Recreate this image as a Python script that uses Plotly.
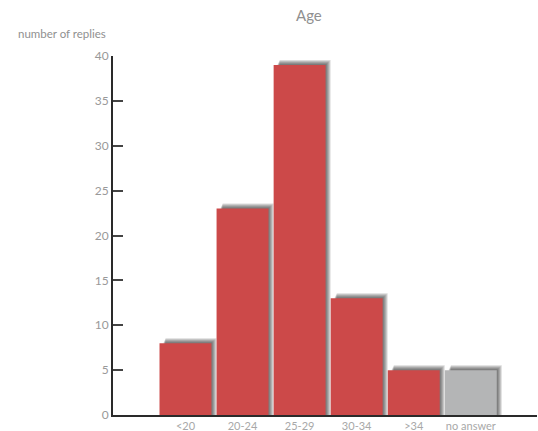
import plotly.graph_objects as go

# Survey answers by age group
categories = ["<20", "20-24", "25-29", "30-34", ">34", "no answer"]
replies = [8, 23, 39, 13, 5, 5]
bar_colors = ["#cc4949", "#cc4949", "#cc4949", "#cc4949", "#cc4949", "#b4b5b6"]
y_ticks = [0, 5, 10, 15, 20, 25, 30, 35, 40]

BAR_W = 0.91
X_RANGE = [-1.27, 6.16]
Y_RANGE = [0, 40]
M_L, M_T = 113, 56
PLOT_W_PX = 424
PLOT_H_PX = 359
px_x = (X_RANGE[1] - X_RANGE[0]) / PLOT_W_PX  # data units per pixel, x
px_y = (Y_RANGE[1] - Y_RANGE[0]) / PLOT_H_PX  # data units per pixel, y

fig = go.Figure()

# soft drop shadow behind each bar: translucent layers growing up and right
for k in range(5):
    left = 4 + 0.5 * k
    right = 1 + k
    fig.add_trace(go.Bar(
        x=categories,
        y=[v + (1 + k) * px_y for v in replies],
        width=BAR_W + (right - left) * px_x,
        offset=-BAR_W / 2 + left * px_x,
        marker=dict(color="rgba(30,30,30,0.16)", line=dict(width=0)),
        hoverinfo="skip",
        showlegend=False,
    ))

fig.add_trace(go.Bar(
    x=categories,
    y=replies,
    width=BAR_W,
    marker=dict(color=bar_colors, line=dict(width=0)),
    showlegend=False,
))


def px_to_paper(px, py):
    """Pixel position in the figure -> paper coords of the plot area."""
    return (px - M_L) / PLOT_W_PX, (M_T + PLOT_H_PX - py) / PLOT_H_PX


title_x, title_y = px_to_paper(309, 15)
label_x, label_y = px_to_paper(16, 33)

fig.update_layout(
    width=538,
    height=431,
    margin=dict(l=M_L, r=538 - M_L - PLOT_W_PX, t=M_T,
                b=431 - M_T - PLOT_H_PX, autoexpand=False),
    paper_bgcolor="white",
    plot_bgcolor="white",
    barmode="overlay",
    font=dict(family="Lato, sans-serif", color="#9a9a9a"),
    xaxis=dict(
        range=X_RANGE,
        showline=True, linecolor="#2a2a2a", linewidth=2,
        showgrid=False, zeroline=False, ticks="",
        tickfont=dict(size=11, color="#a8a8a8"),
        automargin=False,
    ),
    yaxis=dict(
        range=Y_RANGE,
        tickvals=y_ticks,
        showline=True, linecolor="#2a2a2a", linewidth=2,
        ticks="inside", ticklen=10, tickwidth=2, tickcolor="#444",
        showgrid=False, zeroline=False,
        tickfont=dict(size=12, color="#999"),
        automargin=False,
    ),
    annotations=[
        dict(text="Age", x=title_x, y=title_y, xref="paper", yref="paper",
             xanchor="center", yanchor="middle", showarrow=False,
             font=dict(size=15, color="#909090")),
        dict(text="number of replies", x=label_x, y=label_y,
             xref="paper", yref="paper", showarrow=False,
             xanchor="left", yanchor="middle",
             font=dict(size=11.5, color="#909090")),
    ],
)

fig.write_html("out.html")
